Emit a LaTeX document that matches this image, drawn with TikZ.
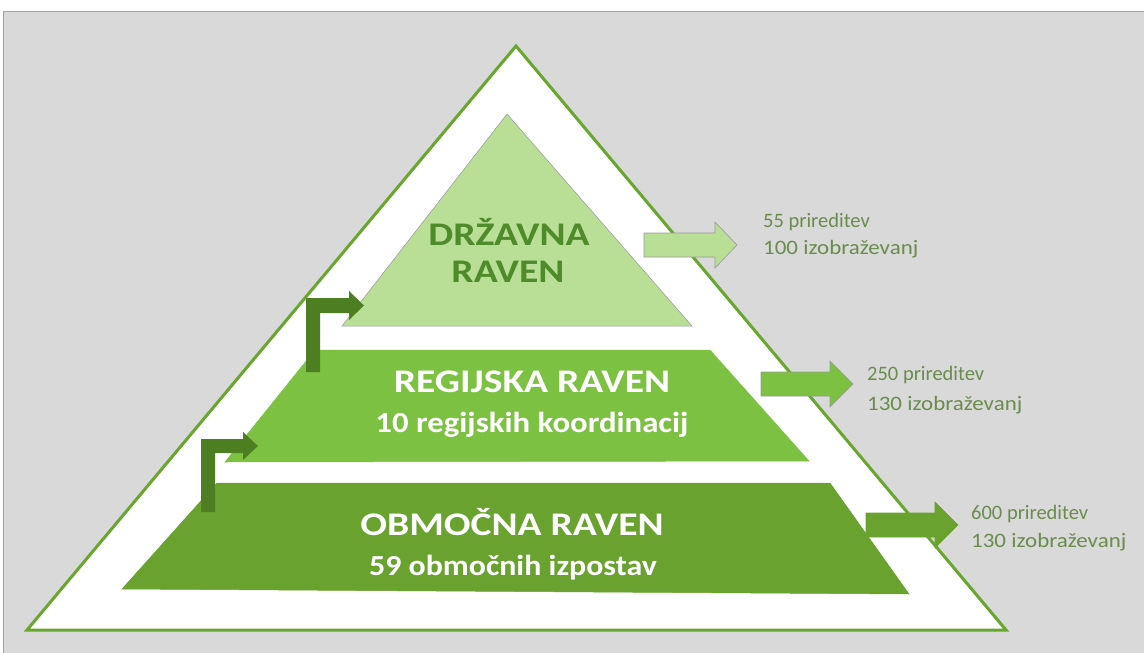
\documentclass[tikz,border=0pt]{standalone}
\usepackage{fontspec}
\setmainfont{Carlito}
\usepackage{graphicx}
\definecolor{bg}{HTML}{D9D9D9}
\definecolor{framec}{HTML}{8EA4BE}
\definecolor{outerg}{HTML}{68A62E}
\definecolor{lightg}{HTML}{B9DE95}
\definecolor{midg}{HTML}{7DC142}
\definecolor{darkg}{HTML}{69A22E}
\definecolor{bentg}{HTML}{4E7E22}
\definecolor{titleg}{HTML}{4F8A2B}
\definecolor{sideg}{HTML}{6A8C4E}
\definecolor{edgec}{HTML}{9A9A9A}
\tikzset{
  levelshape/.style={draw=edgec, line width=0.5pt},
  bentarrow/.style={fill=bentg, draw=none},
  sidearrow/.style={draw=edgec, line width=0.6pt},
  toptext/.style={anchor=base, inner sep=0pt, text=titleg, font=\fontsize{33}{39}\selectfont\bfseries},
  midtext/.style={anchor=base, inner sep=0pt, text=white, font=\fontsize{33}{39}\selectfont\bfseries},
  subtext/.style={anchor=base, inner sep=0pt, text=white, font=\fontsize{29}{34}\selectfont\bfseries},
  sidetext/.style={anchor=base west, inner sep=0pt, text=sideg, font=\fontsize{20.5}{24}\selectfont},
}
\begin{document}
\begin{tikzpicture}[x=1pt, y=-1pt]
\useasboundingbox (0,0) rectangle (1144,653);
\fill[white] (0,0) rectangle (1144,653);
\draw[fill=bg, draw=framec, line width=0.8pt] (3,11) rectangle (1160,670);
% outer triangle
\draw[fill=white, draw=outerg, line width=3pt, line join=miter] (516,46) coordinate (apex) -- (1006,630) coordinate (obr) -- (27,630) coordinate (obl) -- cycle;
% levels
\draw[levelshape, fill=lightg] (507,114) coordinate (ta) -- (692,326) coordinate (tr) -- (342,326) coordinate (tl) -- cycle;
\draw[levelshape, fill=midg, draw=midg] (315,350) coordinate (mtl) -- (710,350) coordinate (mtr) -- (809,461) coordinate (mbr) -- (225,462) coordinate (mbl) -- cycle;
\draw[levelshape, fill=darkg, draw=darkg] (217,483) coordinate (btl) -- (830,483) coordinate (btr) -- (909,594) coordinate (bbr) -- (122,589) coordinate (bbl) -- cycle;
% bent arrows
\fill[bentarrow] (201,512) -- (201,439) -- (243,439) -- (243,432) -- (258,446) -- (243,460) -- (243,453) -- (215,453) -- (215,512) -- cycle;
\fill[bentarrow] (306,372) -- (306,298) -- (349,298) -- (349,291) -- (364,305.5) -- (349,320) -- (349,313) -- (320,313) -- (320,372) -- cycle;
% side arrows
\draw[sidearrow, fill=lightg] (644,233) -- (715,233) -- (715,222) -- (737,245) -- (715,268) -- (715,257) -- (644,257) -- cycle;
\draw[sidearrow, fill=midg] (761,372) -- (830,372) -- (830,361) -- (853,384) -- (830,407) -- (830,396) -- (761,396) -- cycle;
\draw[sidearrow, fill=darkg, draw=darkg] (866,513) -- (935,513) -- (935,502) -- (958,525) -- (935,548) -- (935,537) -- (866,537) -- cycle;
% texts
\node[toptext] (t1) at (509,245) {\scalebox{1.2}[1]{DRŽAVNA}};
\node[toptext] (t2) at (508,282) {\scalebox{1.2}[1]{RAVEN}};
\node[midtext] (m1) at (532,392) {\scalebox{1.2}[1]{REGIJSKA RAVEN}};
\node[subtext] (m2) at (532,432) {\scalebox{1.13}[1]{10 regijskih koordinacij}};
\node[midtext] (b1) at (512,535) {\scalebox{1.2}[1]{OBMOČNA RAVEN}};
\node[subtext] (b2) at (513,575) {\scalebox{1.1}[1]{59 območnih izpostav}};
\node[sidetext] (s1a) at (763,227) {55 prireditev};
\node[sidetext] (s1b) at (763,254) {\scalebox{1.12}[1]{100 izobraževanj}};
\node[sidetext] (s2a) at (867,380) {250 prireditev};
\node[sidetext] (s2b) at (867,410) {\scalebox{1.12}[1]{130 izobraževanj}};
\node[sidetext] (s3a) at (971,519) {600 prireditev};
\node[sidetext] (s3b) at (971,547) {\scalebox{1.12}[1]{130 izobraževanj}};
\end{tikzpicture}
\end{document}
